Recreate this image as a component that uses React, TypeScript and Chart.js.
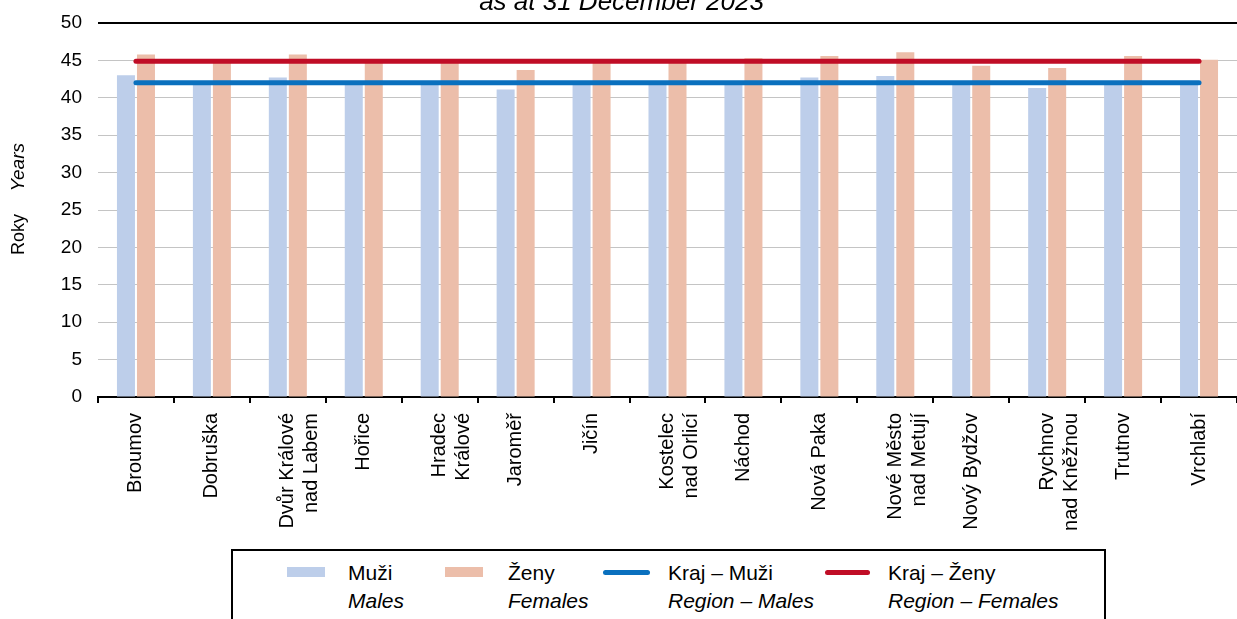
import React, { useEffect, useRef } from "react";
import { Chart, registerables } from "chart.js";

Chart.register(...registerables);

// ---------- data ----------
const categories: (string | string[])[] = [
  "Broumov",
  "Dobruška",
  ["Dvůr Králové", "nad Labem"],
  "Hořice",
  ["Hradec", "Králové"],
  "Jaroměř",
  "Jičín",
  ["Kostelec", "nad Orlicí"],
  "Náchod",
  "Nová Paka",
  ["Nové Město", "nad Metují"],
  "Nový Bydžov",
  ["Rychnov", "nad Kněžnou"],
  "Trutnov",
  "Vrchlabí",
];

const malesAge = [43.0, 42.1, 42.7, 42.1, 42.0, 41.1, 42.2, 42.1, 42.2, 42.7, 42.9, 42.2, 41.3, 42.1, 42.1];
const femalesAge = [45.8, 45.1, 45.8, 45.1, 45.2, 43.7, 45.2, 45.2, 45.3, 45.6, 46.1, 44.3, 44.0, 45.6, 45.1];
const regionMales = [42.0, 42.0, 42.0, 42.0, 42.0, 42.0, 42.0, 42.0, 42.0, 42.0, 42.0, 42.0, 42.0, 42.0, 42.0];
const regionFemales = [44.9, 44.9, 44.9, 44.9, 44.9, 44.9, 44.9, 44.9, 44.9, 44.9, 44.9, 44.9, 44.9, 44.9, 44.9];

const yMin = 0;
const yMax = 50;
const yStep = 5;

const titleText = "as at 31 December 2023";
const yTitleCz = "Roky";
const yTitleEn = "Years";
const legendItems = [
  { cz: "Muži", en: "Males", kind: "bar", color: "#bdceea" },
  { cz: "Ženy", en: "Females", kind: "bar", color: "#ecbeaa" },
  { cz: "Kraj – Muži", en: "Region – Males", kind: "line", color: "#0a70be" },
  { cz: "Kraj – Ženy", en: "Region – Females", kind: "line", color: "#c00d26" },
];

const FONT = "'Liberation Sans', Arial, sans-serif";

const yTitlePlugin = {
  id: "yTitlePlugin",
  afterDraw(chart: any) {
    const ctx = chart.ctx;
    ctx.save();
    ctx.translate(19, 199);
    ctx.rotate(-Math.PI / 2);
    ctx.fillStyle = "#000";
    ctx.textBaseline = "middle";
    ctx.font = `18px ${FONT}`;
    ctx.textAlign = "left";
    ctx.fillText(yTitleCz, -56, 0);
    ctx.font = `italic 19px ${FONT}`;
    ctx.textAlign = "right";
    ctx.fillText(yTitleEn, 56, 0);
    ctx.restore();
  },
};

export default function App() {
  const canvasRef = useRef<HTMLCanvasElement | null>(null);

  useEffect(() => {
    if (!canvasRef.current) return;
    const chart = new Chart(canvasRef.current, {
      type: "bar",
      data: {
        labels: categories as any,
        datasets: [
          {
            type: "line",
            label: "Kraj – Muži",
            data: regionMales,
            borderColor: "#0a70be",
            borderWidth: 5,
            pointRadius: 0,
            borderCapStyle: "round",
            fill: false,
            order: 1,
          } as any,
          {
            type: "line",
            label: "Kraj – Ženy",
            data: regionFemales,
            borderColor: "#c00d26",
            borderWidth: 5,
            pointRadius: 0,
            borderCapStyle: "round",
            fill: false,
            order: 1,
          } as any,
          {
            type: "bar",
            label: "Muži",
            data: malesAge,
            backgroundColor: "#bdceea",
            categoryPercentage: 0.527,
            barPercentage: 0.9,
            order: 2,
          },
          {
            type: "bar",
            label: "Ženy",
            data: femalesAge,
            backgroundColor: "#ecbeaa",
            categoryPercentage: 0.527,
            barPercentage: 0.9,
            order: 2,
          },
        ],
      },
      options: {
        responsive: false,
        animation: false,
        devicePixelRatio: 1,
        layout: { padding: { top: 23, left: 0, right: 0, bottom: 0 } },
        plugins: {
          legend: { display: false },
          title: { display: false },
          tooltip: { enabled: false },
        },
        scales: {
          x: {
            offset: true,
            grid: {
              offset: true,
              drawOnChartArea: false,
              drawTicks: true,
              tickLength: 6,
              color: "#000",
              lineWidth: 2,
            },
            border: { display: true, color: "#000", width: 2 },
            ticks: {
              autoSkip: false,
              minRotation: 90,
              maxRotation: 90,
              padding: 10,
              color: "#000",
              font: { family: FONT, size: 20 },
            },
            afterFit: (scale: any) => {
              scale.height = 222;
            },
          },
          y: {
            min: yMin,
            max: yMax,
            ticks: {
              stepSize: yStep,
              padding: 16,
              color: "#000",
              font: { family: FONT, size: 19 },
            },
            grid: {
              drawTicks: false,
              color: (c: any) => (c.tick && c.tick.value === yMax ? "#000" : "#c4c4c4"),
              lineWidth: (c: any) => (c.tick && c.tick.value === yMax ? 2 : 1),
            },
            border: { display: false },
            afterFit: (scale: any) => {
              scale.width = 98;
              scale.paddingTop = 0;
              scale.paddingBottom = 0;
            },
          },
        },
      },
      plugins: [yTitlePlugin],
    });
    return () => chart.destroy();
  }, []);

  const textX = [348, 508, 668, 888];
  const swatchX = [287, 445, 603, 825];
  const swatchW = [38, 38, 47, 45];

  return (
    <div
      style={{
        position: "fixed",
        left: 0,
        top: 0,
        width: 1237,
        height: 619,
        background: "#fff",
        overflow: "hidden",
        fontFamily: FONT,
      }}
    >
      <canvas ref={canvasRef} width={1237} height={619} style={{ display: "block" }} />
      <div
        style={{
          position: "absolute",
          left: 3,
          top: -12,
          width: 1237,
          textAlign: "center",
          fontStyle: "italic",
          fontSize: 26,
          lineHeight: "26px",
          color: "#000",
        }}
      >
        {titleText}
      </div>
      <div
        style={{
          position: "absolute",
          left: 231,
          top: 549,
          width: 871,
          height: 100,
          border: "2px solid #000",
          background: "#fff",
        }}
      />
      {legendItems.map((it, i) => (
        <React.Fragment key={i}>
          {it.kind === "bar" ? (
            <div
              style={{
                position: "absolute",
                left: swatchX[i],
                top: 567,
                width: swatchW[i],
                height: 10,
                background: it.color,
              }}
            />
          ) : (
            <div
              style={{
                position: "absolute",
                left: swatchX[i],
                top: 570,
                width: swatchW[i],
                height: 5,
                borderRadius: 3,
                background: it.color,
              }}
            />
          )}
          <div
            style={{
              position: "absolute",
              left: textX[i],
              top: 559,
              fontSize: 21,
              lineHeight: "28px",
              color: "#000",
              whiteSpace: "nowrap",
            }}
          >
            <div>{it.cz}</div>
            <div style={{ fontStyle: "italic" }}>{it.en}</div>
          </div>
        </React.Fragment>
      ))}
    </div>
  );
}
